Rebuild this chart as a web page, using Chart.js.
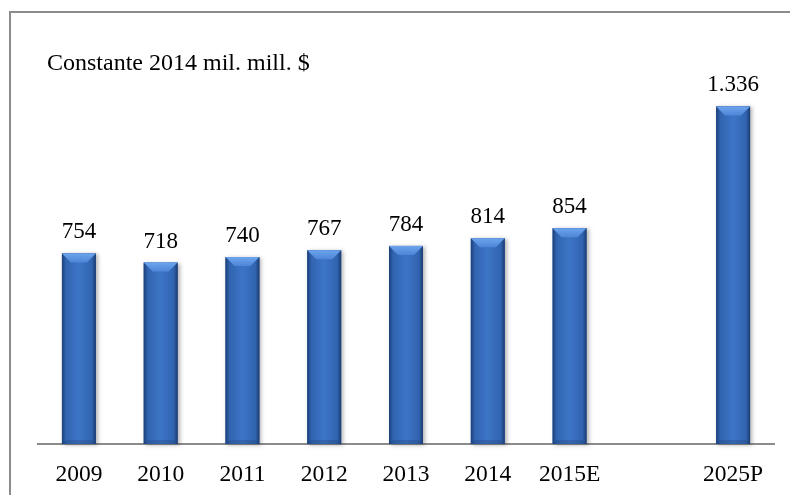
<!DOCTYPE html>
<html>
<head>
<meta charset="utf-8">
<script src="https://cdn.jsdelivr.net/npm/chart.js@4/dist/chart.umd.min.js"></script>
<style>
  html, body { margin: 0; padding: 0; background: #fff; }
  #wrap { position: relative; width: 790px; height: 495px; overflow: hidden; }
  #marco { position: absolute; left: 9px; top: 11px; width: 800px; height: 500px;
           border-left: 2px solid #8c8c8c; border-top: 2px solid #8c8c8c; box-sizing: border-box; }
  canvas { position: absolute; left: 0; top: 0; }
</style>
</head>
<body>
<div id="wrap">
  <div id="marco"></div>
  <canvas id="grafico" width="790" height="495"></canvas>
</div>
<script>
const anios = ['2009', '2010', '2011', '2012', '2013', '2014', '2015E', '', '2025P']
const valores = [754, 718, 740, 767, 784, 814, 854, null, 1336]
const etiquetas = ['754', '718', '740', '767', '784', '814', '854', '', '1.336']
const titulo = 'Constante 2014 mil. mill. $'

const fuente = '"Liberation Serif", "Times New Roman", serif'

// pinta cada barra con degradado y biselado arriba
const barrasBiseladas = {
    id: 'barrasBiseladas',
    afterDatasetsDraw(chart) {
        const ctx = chart.ctx
        chart.getDatasetMeta(0).data.forEach((bar, i) => {
            if (valores[i] == null) return
            const { x, y, base, width } = bar.getProps(['x', 'y', 'base', 'width'], true)
            const izq = x - width / 2
            const der = x + width / 2
            const h = base - y

            ctx.save()
            ctx.shadowColor = 'rgba(0,0,0,0.3)'
            ctx.shadowBlur = 4
            ctx.shadowOffsetX = 2
            ctx.shadowOffsetY = 1
            ctx.fillStyle = '#2b5ea8'
            ctx.fillRect(izq, y, width, h)
            ctx.restore()

            const grad = ctx.createLinearGradient(izq, 0, der, 0)
            grad.addColorStop(0, '#1c3f78')
            grad.addColorStop(0.12, '#3164b0')
            grad.addColorStop(0.5, '#3d75c6')
            grad.addColorStop(0.88, '#3164b0')
            grad.addColorStop(1, '#1a3b70')
            ctx.fillStyle = grad
            ctx.fillRect(izq, y, width, h)

            // bisel superior
            const b = 9
            ctx.beginPath()
            ctx.moveTo(izq, y)
            ctx.lineTo(der, y)
            ctx.lineTo(der - b, y + b)
            ctx.lineTo(izq + b, y + b)
            ctx.closePath()
            const gb = ctx.createLinearGradient(0, y, 0, y + b)
            gb.addColorStop(0, '#6ca4ee')
            gb.addColorStop(1, '#4e86d6')
            ctx.fillStyle = gb
            ctx.fill()

            // bisel inferior, apenas marcado
            ctx.beginPath()
            ctx.moveTo(izq, base)
            ctx.lineTo(der, base)
            ctx.lineTo(der - 4, base - 4)
            ctx.lineTo(izq + 4, base - 4)
            ctx.closePath()
            ctx.fillStyle = 'rgba(25,55,105,0.25)'
            ctx.fill()

            // valor encima
            ctx.fillStyle = '#000'
            ctx.font = '23px ' + fuente
            ctx.textAlign = 'center'
            ctx.textBaseline = 'alphabetic'
            ctx.fillText(etiquetas[i], x, y - 15)
        })

        ctx.save()
        ctx.fillStyle = '#000'
        ctx.font = '24px ' + fuente
        ctx.textAlign = 'left'
        ctx.fillText(titulo, 47, 70)
        ctx.restore()
    }
}

const config = {
    type: 'bar',
    data: {
        labels: anios,
        datasets: [{
            data: valores,
            backgroundColor: 'rgba(0,0,0,0)',
            borderWidth: 0,
            categoryPercentage: 0.83,
            barPercentage: 0.5
        }]
    },
    options: {
        responsive: false,
        animation: false,
        layout: { padding: { left: 38, right: 16, top: 65, bottom: 0 } },
        plugins: { legend: { display: false }, tooltip: { enabled: false } },
        scales: {
            x: {
                grid: { display: false, drawTicks: false },
                border: { display: true, color: '#8c8c8c', width: 2 },
                ticks: { color: '#000', font: { family: fuente, size: 23.5 }, padding: 17, maxRotation: 0, autoSkip: false },
                afterFit(scale) { scale.height = 51 }
            },
            y: {
                display: false,
                min: 0,
                max: 1500
            }
        }
    },
    plugins: [barrasBiseladas]
}

new Chart(document.querySelector('#grafico'), config)
</script>
</body>
</html>
